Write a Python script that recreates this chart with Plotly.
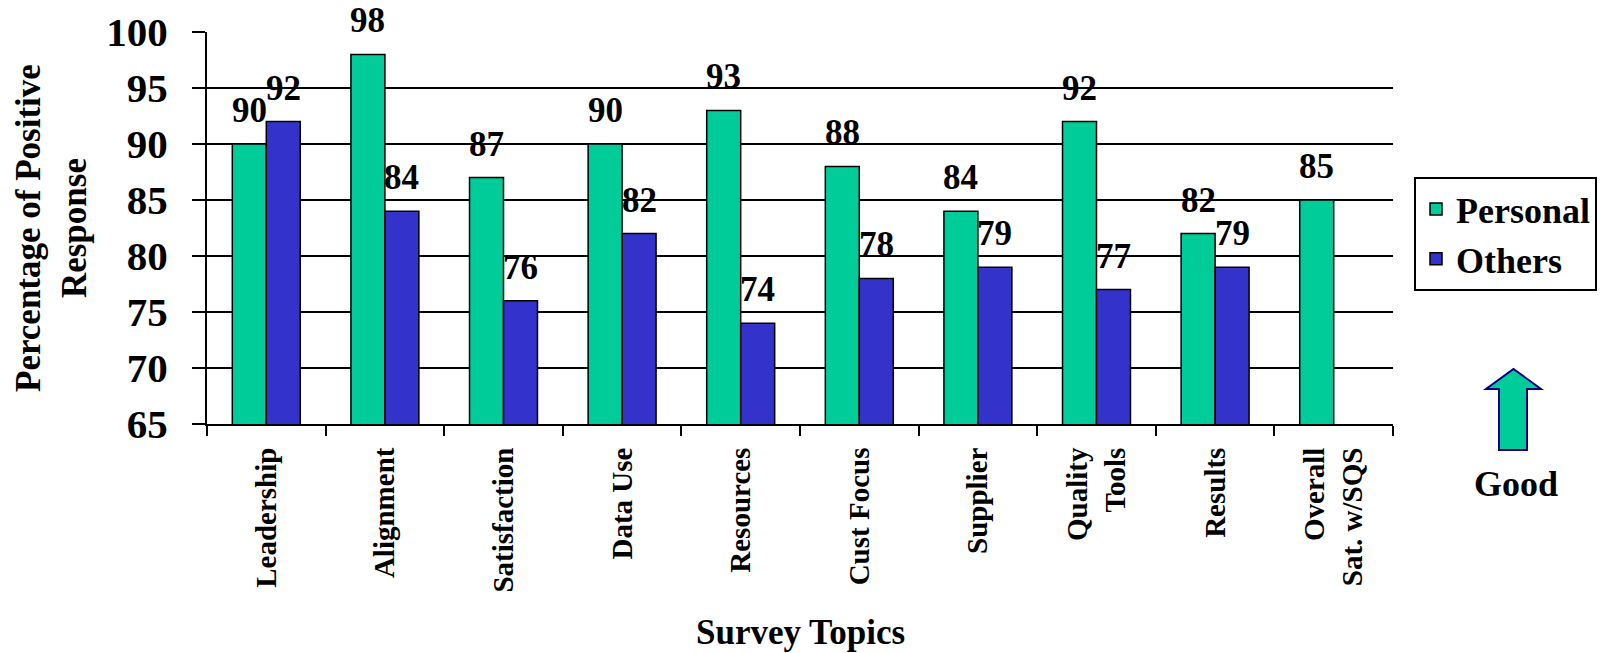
import plotly.graph_objects as go

# ---- data ----
categories = ["Leadership", "Alignment", "Satisfaction", "Data Use", "Resources",
              "Cust Focus", "Supplier", "Quality<br>Tools", "Results", "Overall<br>Sat. w/SQS"]
personal = [90, 98, 87, 90, 93, 88, 84, 92, 82, 85]
others = [92, 84, 76, 82, 74, 78, 79, 77, 79, None]
y_ticks = [65, 70, 75, 80, 85, 90, 95, 100]

GREEN = "#00CC99"
BLUE = "#3333CC"
FONT = "Liberation Serif, Times New Roman, serif"

W, H = 1606, 653
L, R, T, B = 207, 213, 32, 229
PW, PH = W - L - R, H - T - B


def px(x):
    return (x - L) / PW


def py(y):
    return (H - B - y) / PH


fig = go.Figure()
fig.add_trace(go.Bar(name="Personal", x=categories, y=personal,
                     marker=dict(color=GREEN, line=dict(color="black", width=1.5))))
fig.add_trace(go.Bar(name="Others", x=categories, y=others,
                     marker=dict(color=BLUE, line=dict(color="black", width=1.5))))

annotations = []
label_font = dict(family=FONT, size=35, color="black", weight="bold")
for series, shift in ((personal, -17), (others, 17)):
    for cat, v in zip(categories, series):
        if v is None:
            continue
        annotations.append(dict(x=cat, y=v, xref="x", yref="y", text=str(v),
                                showarrow=False, xshift=shift, yshift=12,
                                yanchor="bottom", xanchor="center", font=label_font))

# axis titles
annotations.append(dict(x=px(51), y=0.5, xref="paper", yref="paper",
                        text="Percentage of Positive<br>Response", textangle=-90,
                        showarrow=False, xanchor="center", yanchor="middle",
                        font=dict(family=FONT, size=35, color="black", weight="bold")))
annotations.append(dict(x=0.5, y=py(632), xref="paper", yref="paper",
                        text="Survey Topics", showarrow=False,
                        xanchor="center", yanchor="middle",
                        font=dict(family=FONT, size=35, color="black", weight="bold")))
annotations.append(dict(x=px(1516), y=py(484), xref="paper", yref="paper",
                        text="Good", showarrow=False,
                        xanchor="center", yanchor="middle",
                        font=dict(family=FONT, size=36, color="black", weight="bold")))

# "Good" arrow
pts = [(1513.5, 369), (1541, 389), (1527, 389), (1527, 450), (1499, 450), (1499, 389), (1486, 389)]
path = "M " + " L ".join(f"{px(a):.5f},{py(b):.5f}" for a, b in pts) + " Z"
shapes = [dict(type="path", path=path, xref="paper", yref="paper",
               fillcolor=GREEN, line=dict(color="#000080", width=2))]

fig.update_layout(
    width=W, height=H, autosize=False,
    margin=dict(l=L, r=R, t=T, b=B, pad=0, autoexpand=False),
    paper_bgcolor="white", plot_bgcolor="white",
    barmode="group", bargap=0.427, bargroupgap=0,
    showlegend=True,
    legend=dict(x=px(1414), y=py(177), xanchor="left", yanchor="top",
                bordercolor="black", borderwidth=2, bgcolor="white",
                font=dict(family=FONT, size=36, color="black", weight="bold")),
    annotations=annotations,
    shapes=shapes,
    xaxis=dict(type="category", showline=True, linecolor="black", linewidth=2,
               ticks="outside", tickson="boundaries", ticklen=10, tickwidth=2, tickcolor="black",
               tickangle=-90, ticklabelstandoff=10, automargin=False,
               tickfont=dict(family=FONT, size=29, color="black", weight="bold"),
               showgrid=False),
    yaxis=dict(range=[65, 100], tickvals=y_ticks, showline=True, linecolor="black", linewidth=2,
               ticks="outside", ticklen=13, tickwidth=2, tickcolor="black",
               showgrid=True, gridcolor="black", gridwidth=2, zeroline=False,
               ticklabelstandoff=16, automargin=False,
               tickfont=dict(family=FONT, size=41, color="black", weight="bold")),
)

fig.write_html("out.html", config={"displayModeBar": False},
               post_script="document.body.style.margin='0';document.body.style.overflow='hidden';")
